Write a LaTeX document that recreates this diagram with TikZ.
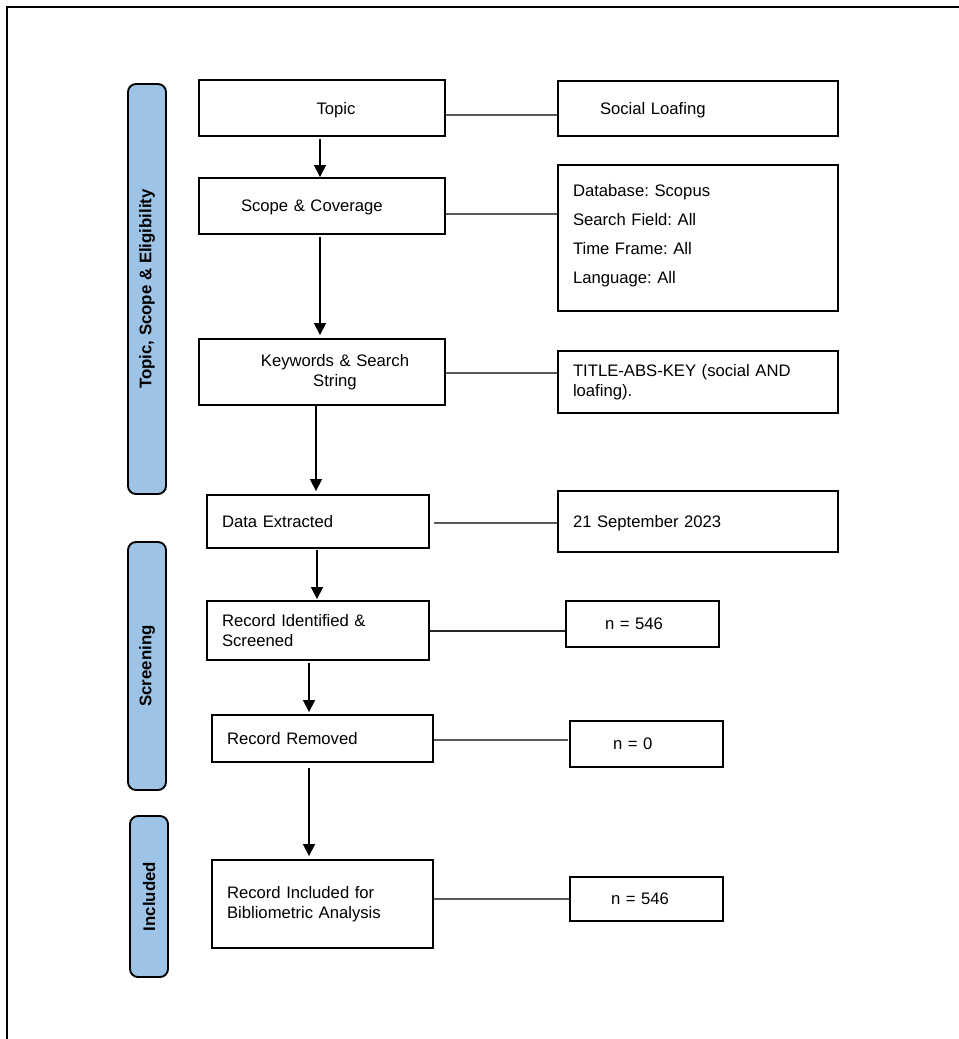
\documentclass[tikz,border=0pt]{standalone}
\usepackage{fontspec}
\setmainfont{Liberation Sans}
\usetikzlibrary{arrows.meta,calc}
\definecolor{bandblue}{HTML}{9DC3E6}
\definecolor{linkgray}{HTML}{5A5A5A}
\frenchspacing
\begin{document}
\begin{tikzpicture}[x=0.75pt,y=-0.75pt,
  every node/.style={font=\fontsize{12.5}{15}\selectfont},
  box/.style={draw=black,line width=1.4pt,fill=white,inner xsep=0pt,inner ysep=2pt},
  oneline/.style={text depth=0pt},
  band/.style={draw=black,line width=1.4pt,fill=bandblue,rounded corners=6pt,rotate=90,
    font=\fontsize{12.6}{15}\selectfont\bfseries},
  arr/.style={line width=1.2pt,-{Triangle[length=9pt,width=9pt]}},
  link/.style={draw=linkgray,line width=0.8pt},
  darklink/.style={draw=black!85,line width=0.9pt}]
\useasboundingbox (0,0) rectangle (959,1039);
% outer frame (open on right and bottom)
\draw[line width=1.8pt] (7,1039) -- (7,7) -- (959,7);

% phase bands
\node[band,minimum width=307.5pt,minimum height=28.5pt] (b1) at (147,289) {Topic, Scope \& Eligibility};
\node[band,minimum width=186pt,minimum height=28.5pt] (b2) at (147,666) {Screening};
\node[band,minimum width=120.75pt,minimum height=28.5pt] (b3) at (149,896.5) {Included};

% left column
\node[box,oneline,minimum width=184.5pt,minimum height=42pt] (topic) at (322,108) {\hspace*{21pt}Topic};
\node[box,oneline,minimum width=184.5pt,minimum height=42pt,text width=121.5pt,align=left] (scope) at (322,206) {Scope \& Coverage};
\node[box,minimum width=184.5pt,minimum height=49.5pt,text width=184.5pt,align=center] (keys) at (322,372) {\hspace*{19.5pt}Keywords \& Search\\\hspace*{19.5pt}String};
\node[box,oneline,minimum width=166.5pt,minimum height=39.75pt,text width=144pt,align=left] (data) at (318,521.5) {Data Extracted};
\node[box,minimum width=166.5pt,minimum height=44.25pt,text width=144pt,align=left] (recid) at (318,630.5) {Record Identified \&\\Screened};
\node[box,oneline,minimum width=165.75pt,minimum height=35.25pt,text width=143.25pt,align=left] (removed) at (322.5,738.5) {Record Removed};
\node[box,minimum width=165.75pt,minimum height=66pt,text width=143.25pt,align=left] (included) at (322.5,904) {Record Included for\\Bibliometric Analysis};

% right column
\node[box,oneline,minimum width=210pt,minimum height=41.25pt,text width=147pt,align=left] (social) at (698,108.5) {Social Loafing};
\node[box,minimum width=210pt,minimum height=109.5pt,text width=187.5pt,align=left,font=\fontsize{12.5}{21.75}\selectfont] (db) at (698,238) {Database: Scopus\\Search Field: All\\Time Frame: All\\Language: All\\[-16pt]\mbox{}};
\node[box,minimum width=210pt,minimum height=46.5pt,text width=187.5pt,align=left] (title) at (698,382) {TITLE-ABS-KEY (social AND\\loafing).};
\node[box,oneline,minimum width=210pt,minimum height=45.75pt,text width=187.5pt,align=left] (date) at (698,521.5) {21 September 2023};
\node[box,oneline,minimum width=114.75pt,minimum height=34.5pt,text width=56.25pt,align=left] (n1) at (642.5,624) {n = 546};
\node[box,oneline,minimum width=114.75pt,minimum height=34.5pt,text width=50.25pt,align=left] (n2) at (646.5,744) {n = 0};
\node[box,oneline,minimum width=114.75pt,minimum height=33pt,text width=53.25pt,align=left] (n3) at (646.5,899) {n = 546};

% flow arrows
\draw[arr] ($(topic.south)+(-2,2)$) -- ($(scope.north)+(-2,0)$);
\draw[arr] ($(scope.south)+(-2,2)$) -- ($(keys.north)+(-2,-3)$);
\draw[arr] ($(keys.south)+(-6,0)$) -- ($(data.north)+(-2,-3)$);
\draw[arr] ($(data.south)+(-1,1)$) -- ($(recid.north)+(-1,-1)$);
\draw[arr] ($(recid.south)+(-9,2)$) -- ($(removed.north)+(-13.5,-2)$);
\draw[arr] ($(removed.south)+(-13.5,5)$) -- ($(included.north)+(-13.5,-3)$);

% side links
\draw[link] ($(topic.east)+(0,7)$) -- ($(social.west)+(0,6.5)$);
\draw[link] ($(scope.east)+(0,8)$) -- ($(db.west)+(0,-24)$);
\draw[link] ($(keys.east)+(0,1)$) -- ($(title.west)+(0,-9)$);
\draw[link] ($(data.east)+(4,1.5)$) -- ($(date.west)+(0,1.5)$);
\draw[darklink] ($(recid.east)+(0,0.5)$) -- ($(n1.west)+(0,7)$);
\draw[link] ($(removed.east)+(0,1.5)$) -- ($(n2.west)+(-1,-4)$);
\draw[link] ($(included.east)+(0,-5)$) -- ($(n3.west)+(0,0)$);
\end{tikzpicture}
\end{document}
